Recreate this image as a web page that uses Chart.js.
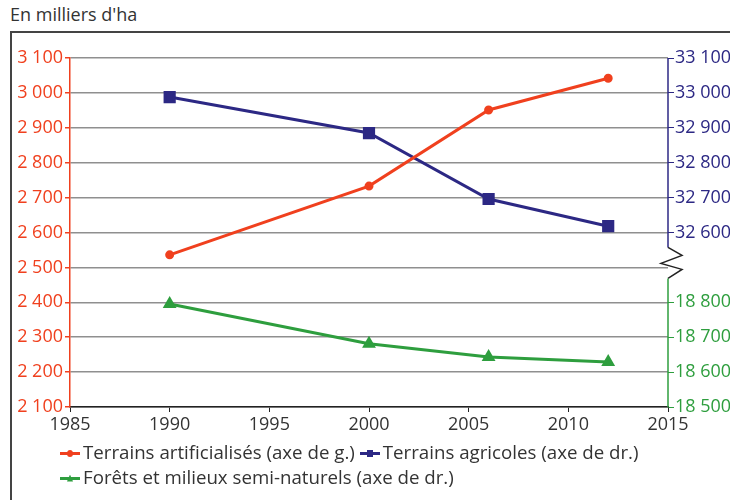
<!DOCTYPE html>
<html>
<head>
<meta charset="utf-8">
<script src="https://cdn.jsdelivr.net/npm/chart.js@4"></script>
<style>
  body { margin: 0; background: #fff; font-family: 'Open Sans', sans-serif; }
  #wrap { position: relative; width: 730px; height: 500px; overflow: hidden; }
  #title { position: absolute; left: 10px; top: 2px; font-size: 18px; color: #333; }
  #frame { position: absolute; left: 10px; top: 31px; width: 760px; height: 520px;
           border-left: 2px solid #444; border-top: 2px solid #444; }
  canvas { position: absolute; left: 0; top: 0; }
  #legend { position: absolute; left: 60px; top: 439px; font-size: 18.7px; color: #333; line-height: 25px; }
  .item { display: inline-block; margin-right: 5px; white-space: nowrap; }
  .sw { display: inline-block; width: 20px; height: 3px; vertical-align: middle; margin-right: 3px; position: relative; top: -1px; }
  .mk { position: absolute; left: 7px; top: -2px; width: 6px; height: 7px; }
</style>
</head>
<body>
<div id="wrap">
  <div id="title">En milliers d'ha</div>
  <div id="frame"></div>
  <canvas id="chart" width="730" height="500"></canvas>
  <div id="legend"></div>
</div>
<script>
// === Data ===
const years = [1990, 2000, 2006, 2012];
const artificialises = [2536, 2733, 2951, 3042];       // axe de gauche
const agricoles = [32988, 32885, 32696, 32618];        // axe de droite (haut)
const forets = [18795, 18681, 18643, 18629];           // axe de droite (bas)

const seriesNames = [
    'Terrains artificialisés (axe de g.)',
    'Terrains agricoles (axe de dr.)',
    'Forêts et milieux semi-naturels (axe de dr.)'
];

const RED = '#f0401e';
const PURPLE = '#2c2884';
const GREEN = '#2e9e3e';

// thousands separator with a space, like "3 100"
function fmt(v) {
    return String(v).replace(/\B(?=(\d{3})+(?!\d))/g, ' ');
}

// right axis is broken: upper part = agricoles, lower part = forets
const AGRI_MIN = 32100, AGRI_MAX = 33100;
const FORET_MIN = 18500, FORET_MAX = 19500;
const BREAK_VALUE = 32500;

function rightLabel(v) {
    if (v > BREAK_VALUE) return fmt(v);
    if (v < BREAK_VALUE) return fmt(v - AGRI_MIN + FORET_MIN);
    return '';
}

// draws the right axis line with its zigzag break
const brokenAxis = {
    id: 'brokenAxis',
    afterDraw(chart) {
        const s = chart.scales.yAgri;
        const ctx = chart.ctx;
        const x = s.left;
        const yBreak = s.getPixelForValue(BREAK_VALUE);
        const top = s.top, bottom = s.bottom;
        ctx.save();
        ctx.lineWidth = 1.5;
        ctx.strokeStyle = PURPLE;
        ctx.beginPath();
        ctx.moveTo(x, top);
        ctx.lineTo(x, yBreak - 20);
        ctx.stroke();
        ctx.strokeStyle = '#222';
        ctx.beginPath();
        ctx.moveTo(x, yBreak - 20);
        ctx.lineTo(x + 14, yBreak - 12);
        ctx.lineTo(x - 7, yBreak - 4);
        ctx.lineTo(x + 14, yBreak + 2);
        ctx.lineTo(x, yBreak + 11);
        ctx.stroke();
        ctx.strokeStyle = GREEN;
        ctx.beginPath();
        ctx.moveTo(x, yBreak + 11);
        ctx.lineTo(x, bottom);
        ctx.stroke();
        ctx.restore();
    }
};

const FONT = { family: "'Open Sans', sans-serif", size: 18 };

const ctx = document.getElementById('chart').getContext('2d');
new Chart(ctx, {
    type: 'line',
    data: {
        datasets: [{
            label: seriesNames[0],
            data: years.map((y, i) => ({ x: y, y: artificialises[i] })),
            borderColor: RED,
            backgroundColor: RED,
            borderWidth: 3,
            pointStyle: 'circle',
            pointRadius: 3,
            yAxisID: 'y'
        }, {
            label: seriesNames[1],
            data: years.map((y, i) => ({ x: y, y: agricoles[i] })),
            borderColor: PURPLE,
            backgroundColor: PURPLE,
            borderWidth: 3,
            pointStyle: 'rect',
            pointRadius: 6.5,
            yAxisID: 'yAgri'
        }, {
            label: seriesNames[2],
            data: years.map((y, i) => ({ x: y, y: forets[i] })),
            borderColor: GREEN,
            backgroundColor: GREEN,
            borderWidth: 3,
            pointStyle: 'triangle',
            pointRadius: 5,
            yAxisID: 'yForet'
        }]
    },
    options: {
        responsive: false,
        animation: false,
        layout: { padding: { left: 0, right: 0, top: 58, bottom: 53 } },
        plugins: { legend: { display: false }, tooltip: { enabled: false } },
        scales: {
            x: {
                type: 'linear',
                min: 1985, max: 2015,
                ticks: { stepSize: 5, color: '#333', font: FONT, padding: 2, callback: v => String(v) },
                grid: { drawOnChartArea: false, tickLength: 5, tickColor: '#222' },
                border: { color: '#222', width: 1.5 },
                afterFit: s => { s.height = 40; }
            },
            y: {
                position: 'left',
                min: 2100, max: 3100,
                ticks: { stepSize: 100, color: RED, font: FONT, padding: 2, callback: v => fmt(v) },
                grid: { color: '#8f8f8f', lineWidth: 1.5, tickLength: 5, tickColor: RED },
                border: { color: RED, width: 1.5 },
                afterFit: s => { s.width = 70; }
            },
            yAgri: {
                position: 'right',
                min: AGRI_MIN, max: AGRI_MAX,
                ticks: {
                    stepSize: 100,
                    font: FONT,
                    padding: 1,
                    color: c => c.tick.value > BREAK_VALUE ? PURPLE : GREEN,
                    callback: v => rightLabel(v)
                },
                grid: {
                    drawOnChartArea: false,
                    tickLength: 6,
                    tickColor: c => c.tick.value === BREAK_VALUE ? 'rgba(0,0,0,0)' : (c.tick.value > BREAK_VALUE ? PURPLE : GREEN)
                },
                border: { display: false },
                afterFit: s => { s.width = 62; }
            },
            yForet: {
                display: false,
                min: FORET_MIN, max: FORET_MAX
            }
        }
    },
    plugins: [brokenAxis]
});

// legend: short line with the series marker
const colors = [RED, PURPLE, GREEN];
const markers = ['border-radius:50%;', '', 'clip-path:polygon(50% 0,100% 100%,0 100%);'];
const legend = document.getElementById('legend');
seriesNames.forEach((name, i) => {
    const item = document.createElement('span');
    item.className = 'item';
    item.innerHTML = '<span class="sw" style="background:' + colors[i] + '">' +
        '<span class="mk" style="background:' + colors[i] + ';' + markers[i] + '"></span></span>' + name;
    legend.appendChild(item);
    if (i === 1) legend.appendChild(document.createElement('br'));
});
</script>
</body>
</html>
